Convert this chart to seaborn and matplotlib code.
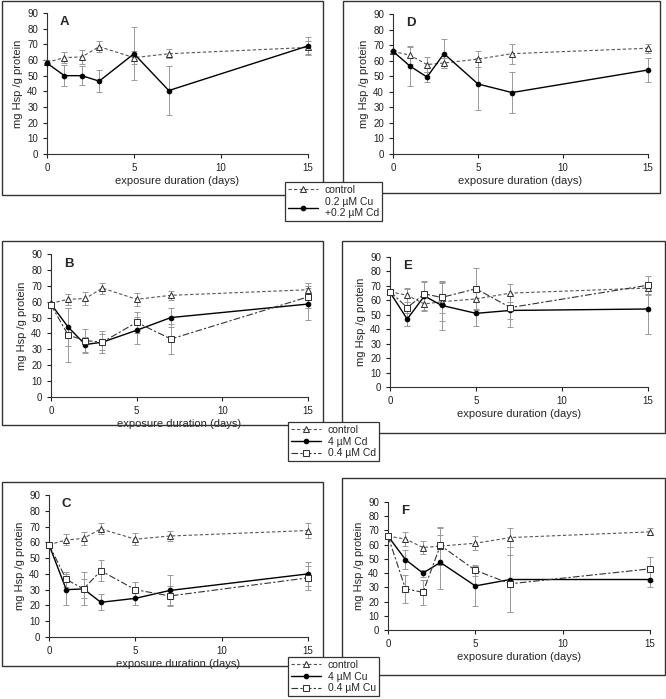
import numpy as np
import pandas as pd
import matplotlib
matplotlib.use("Agg")
import matplotlib.pyplot as plt
import seaborn as sns
from matplotlib.patches import Rectangle

days = [0, 1, 2, 3, 5, 7, 15]

# panel A: control vs 0.2 uM Cu + 0.2 uM Cd
a_ctrl = [58.5, 61.5, 62, 68.5, 61.5, 64, 68]
a_ctrl_err = [1.5, 3.5, 4.5, 3.5, 4, 3, 4]
a_mix = [58, 50, 50, 46.5, 64, 40.5, 69]
a_mix_err = [0, 6.5, 6, 7, 17, 15.5, 5.5]

# panel D: control vs 0.2 uM Cu + 0.2 uM Cd
d_ctrl = [66, 63.5, 57.5, 58.5, 61, 64.5, 68]
d_ctrl_err = [1, 5.5, 5, 3.5, 5, 6.5, 3]
d_mix = [66, 56.5, 49.5, 64.5, 45, 39.5, 54]
d_mix_err = [0, 13, 3, 9.5, 16.5, 13, 7.5]

# panel B: control, 4 uM Cd, 0.4 uM Cd
b_ctrl = [59, 61.5, 62, 68.5, 61.5, 64, 67.5]
b_ctrl_err = [1, 3.5, 4, 3.5, 4, 3, 4.5]
b_hi = [58.5, 44, 33, 34.5, 42, 50, 58.5]
b_hi_err = [0, 12, 5, 7, 8.5, 6, 10]
b_lo = [58, 39, 35.5, 34.5, 47, 36.5, 63]
b_lo_err = [0, 17, 7, 5, 6.5, 9.5, 7]

# panel E: control, 4 uM Cd, 0.4 uM Cd
e_ctrl = [66, 63.5, 57.5, 59, 61, 65, 68.5]
e_ctrl_err = [1, 5, 5, 13, 7, 6.5, 4]
e_hi = [65.5, 47, 63, 56.5, 51, 53, 54]
e_hi_err = [0, 4.5, 10, 17, 8.5, 11.5, 17.5]
e_lo = [66, 55, 64.5, 62, 68, 55, 70.5]
e_lo_err = [0, 13, 9, 11, 14.5, 8, 6.5]

# panel C: control, 4 uM Cu, 0.4 uM Cu
c_ctrl = [58.5, 61.5, 62.5, 68.5, 62, 64, 67.5]
c_ctrl_err = [1, 3.5, 4, 3.5, 4, 3, 4.5]
c_hi = [58.5, 30, 30.5, 22, 24.5, 29.5, 40]
c_hi_err = [0, 10, 10.5, 5, 4.5, 9.5, 7.5]
c_lo = [58.5, 36.5, 30.5, 42, 30, 26, 37.5]
c_lo_err = [0, 4.5, 6, 6.5, 5, 6.5, 7.5]

# panel F: control, 4 uM Cu, 0.4 uM Cu
f_ctrl = [66, 64, 58, 59, 61, 65, 69]
f_ctrl_err = [1, 5, 4.5, 13, 5, 6.5, 2.5]
f_hi = [66, 49.5, 40, 47.5, 31, 35.5, 35.5]
f_hi_err = [0, 6.5, 2.5, 19, 14, 23, 5]
f_lo = [66, 29, 26.5, 59.5, 42, 32.5, 43]
f_lo_err = [0, 10, 9, 13, 4, 20, 8.5]

sns.set_style("ticks")
plt.rcParams["font.family"] = ["Liberation Sans", "DejaVu Sans"]

fig = plt.figure(figsize=(6.66, 6.99), dpi=100)
W, H = 666, 699


def px_axes(x0, y0, x1, y1):
    return fig.add_axes([x0 / W, 1 - y1 / H, (x1 - x0) / W, (y1 - y0) / H])


def px_box(x0, y0, x1, y1):
    fig.patches.append(Rectangle((x0 / W, 1 - y1 / H), (x1 - x0) / W, (y1 - y0) / H,
                                 transform=fig.transFigure, fill=False,
                                 edgecolor="#333333", linewidth=1.0, zorder=1))


styles = {
    "ctrl": dict(linestyle=(0, (3, 2)), color="#555555", marker="^", markersize=4.5,
                 markerfacecolor="white", markeredgecolor="#333333", linewidth=0.8),
    "hi": dict(linestyle="-", color="black", marker="o", markersize=3.3,
               markerfacecolor="black", markeredgecolor="black", linewidth=1.0),
    "lo": dict(linestyle=(0, (6, 2, 2, 2)), color="#333333", marker="s", markersize=4.8,
               markerfacecolor="white", markeredgecolor="#333333", linewidth=0.8),
}


def draw_series(ax, y, err, key, label):
    ax.errorbar(days, y, yerr=err, fmt="none", ecolor="#999999", elinewidth=0.7,
                capsize=2, capthick=0.7, zorder=2, clip_on=False)
    df = pd.DataFrame({"day": days, "val": y})
    sns.lineplot(data=df, x="day", y="val", ax=ax, label=label, zorder=3,
                 clip_on=False, **styles[key])


def style_axes(ax, letter):
    ax.set_xlim(0, 15)
    ax.set_ylim(0, 90)
    ax.set_xticks([0, 5, 10, 15])
    ax.set_yticks(range(0, 91, 10))
    sns.despine(ax=ax)
    ax.tick_params(labelsize=7, length=3, width=0.8, colors="#222222")
    for s in ["left", "bottom"]:
        ax.spines[s].set_linewidth(0.8)
        ax.spines[s].set_color("#333333")
    ax.set_xlabel("exposure duration (days)", fontsize=8, labelpad=2)
    ax.set_ylabel("mg Hsp /g protein", fontsize=8, labelpad=3)
    ax.text(0.75, 84, letter, fontsize=9.5, fontweight="bold", va="center")
    if ax.get_legend() is not None:
        ax.get_legend().remove()


# row 1
axA = px_axes(47, 13, 308, 154)
draw_series(axA, a_ctrl, a_ctrl_err, "ctrl", "control")
draw_series(axA, a_mix, a_mix_err, "hi", "0.2 µM Cu\n+0.2 µM Cd")
handlesA, labelsA = axA.get_legend_handles_labels()
style_axes(axA, "A")

axD = px_axes(393, 14, 648, 154)
draw_series(axD, d_ctrl, d_ctrl_err, "ctrl", "control")
draw_series(axD, d_mix, d_mix_err, "hi", "0.2 µM Cu\n+0.2 µM Cd")
style_axes(axD, "D")

# row 2
axB = px_axes(51, 254, 308, 397)
draw_series(axB, b_ctrl, b_ctrl_err, "ctrl", "control")
draw_series(axB, b_hi, b_hi_err, "hi", "4 µM Cd")
draw_series(axB, b_lo, b_lo_err, "lo", "0.4 µM Cd")
handlesB, labelsB = axB.get_legend_handles_labels()
style_axes(axB, "B")

axE = px_axes(390, 257, 648, 387)
draw_series(axE, e_ctrl, e_ctrl_err, "ctrl", "control")
draw_series(axE, e_hi, e_hi_err, "hi", "4 µM Cd")
draw_series(axE, e_lo, e_lo_err, "lo", "0.4 µM Cd")
style_axes(axE, "E")

# row 3
axC = px_axes(49, 495, 308, 637)
draw_series(axC, c_ctrl, c_ctrl_err, "ctrl", "control")
draw_series(axC, c_hi, c_hi_err, "hi", "4 µM Cu")
draw_series(axC, c_lo, c_lo_err, "lo", "0.4 µM Cu")
handlesC, labelsC = axC.get_legend_handles_labels()
style_axes(axC, "C")

axF = px_axes(388, 502, 650, 630)
draw_series(axF, f_ctrl, f_ctrl_err, "ctrl", "control")
draw_series(axF, f_hi, f_hi_err, "hi", "4 µM Cu")
draw_series(axF, f_lo, f_lo_err, "lo", "0.4 µM Cu")
style_axes(axF, "F")

# panel frames
px_box(2, 1, 323, 195)
px_box(343, 1, 660, 193)
px_box(2, 241, 323, 425)
px_box(342, 241, 665, 433)
px_box(2, 482, 323, 666)
px_box(342, 478, 665, 675)


def add_legend(handles, labels, x0, y0):
    leg = fig.legend(handles, labels, loc="upper left",
                     bbox_to_anchor=(x0 / W, 1 - y0 / H), fontsize=7.5,
                     frameon=True, fancybox=False, handlelength=2.9,
                     borderpad=0.3, labelspacing=0.15, handletextpad=0.6,
                     borderaxespad=0)
    leg.get_frame().set_edgecolor("#333333")
    leg.get_frame().set_linewidth(0.9)
    leg.get_frame().set_facecolor("white")
    leg.get_frame().set_alpha(1)
    return leg


add_legend(handlesA, labelsA, 285, 182)
add_legend(handlesB, labelsB, 288, 422)
add_legend(handlesC, labelsC, 288, 657)

fig.savefig("out.png", dpi=100, facecolor="white")
